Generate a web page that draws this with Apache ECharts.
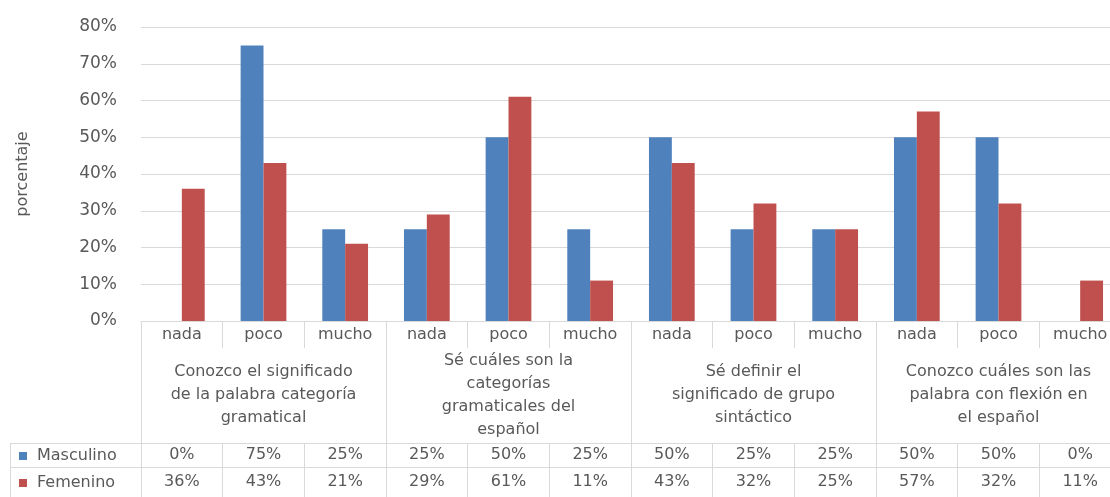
<!DOCTYPE html>
<html>
<head>
<meta charset="utf-8">
<script src="https://cdn.jsdelivr.net/npm/echarts@6/dist/echarts.min.js"></script>
<style>
  html, body { margin: 0; padding: 0; background: #ffffff; }
  #chart { width: 1110px; height: 497px; }
</style>
</head>
<body>
<div id="chart"></div>
<script>
// Answer levels for each statement
const levels = ['nada', 'poco', 'mucho', 'nada', 'poco', 'mucho', 'nada', 'poco', 'mucho', 'nada', 'poco', 'mucho'];
// Statements grouping the answer levels
const statements = [
  'Conozco el significado\nde la palabra categoría\ngramatical',
  'Sé cuáles son la\ncategorías\ngramaticales del\nespañol',
  'Sé definir el\nsignificado de grupo\nsintáctico',
  'Conozco cuáles son las\npalabra con flexión en\nel español'
];
// Percentages per gender
const masculino = [0, 75, 25, 25, 50, 25, 50, 25, 25, 50, 50, 0];
const femenino = [36, 43, 21, 29, 61, 11, 43, 32, 25, 57, 32, 11];
const yTicks = [0, 10, 20, 30, 40, 50, 60, 70, 80];

const FONT = 'DejaVu Sans';
const TEXT = '#595959';
const LINE = '#D9D9D9';
const BLUE = '#4F81BD';
const RED = '#C0504D';

const chart = echarts.init(document.getElementById('chart'), null, { renderer: 'canvas' });

const pct = v => v + '%';

const tableAxis = (data, offset, tickLen, margin, extra) => Object.assign({
  type: 'category',
  position: 'bottom',
  data: data,
  offset: offset,
  axisLine: { show: true, lineStyle: { color: LINE, width: 1 } },
  axisTick: { show: true, length: tickLen, interval: 0, lineStyle: { color: LINE, width: 1 } },
  axisLabel: {
    interval: 0, margin: margin, color: TEXT, fontFamily: FONT, fontSize: 16,
    verticalAlign: 'middle'
  },
  splitLine: { show: false }
}, extra || {});

chart.setOption({
  animation: false,
  backgroundColor: '#ffffff',
  textStyle: { fontFamily: FONT },
  // the plot runs a little past the right edge of the canvas
  grid: {
    left: 141, width: 980, top: 27, bottom: 176,
    containLabel: false, outerBoundsMode: 'none'
  },
  legend: [
    {
      data: ['Masculino'], left: 14, top: 443, icon: 'rect', itemWidth: 8, itemHeight: 8,
      textStyle: { color: TEXT, fontFamily: FONT, fontSize: 16, padding: [0, 0, 0, 5] }
    },
    {
      data: ['Femenino'], left: 14, top: 470, icon: 'rect', itemWidth: 8, itemHeight: 8,
      textStyle: { color: TEXT, fontFamily: FONT, fontSize: 16, padding: [0, 0, 0, 5] }
    }
  ],
  xAxis: [
    tableAxis(levels, 0, 27, 14),
    tableAxis(statements, 0, 122, 74, {
      axisLine: { show: false },
      axisLabel: {
        interval: 0, margin: 74, color: TEXT, fontFamily: FONT, fontSize: 16,
        verticalAlign: 'middle', lineHeight: 23
      }
    }),
    tableAxis(masculino.map(pct), 122, 24, 12),
    tableAxis(femenino.map(pct), 146, 32, 15)
  ],
  yAxis: {
    type: 'value',
    min: yTicks[0],
    max: yTicks[yTicks.length - 1],
    interval: 10,
    name: 'porcentaje',
    nameLocation: 'middle',
    nameGap: 110,
    nameTextStyle: { color: TEXT, fontFamily: FONT, fontSize: 16 },
    axisLine: { show: false },
    axisTick: { show: false },
    axisLabel: { formatter: '{value}%', color: TEXT, fontFamily: FONT, fontSize: 17, margin: 24 },
    splitLine: { show: true, lineStyle: { color: LINE, width: 1 } }
  },
  series: [
    {
      name: 'Masculino', type: 'bar', xAxisIndex: 0, data: masculino,
      barGap: '0%', barCategoryGap: '44%',
      itemStyle: { color: BLUE }
    },
    {
      name: 'Femenino', type: 'bar', xAxisIndex: 0, data: femenino,
      barGap: '0%', barCategoryGap: '44%',
      itemStyle: { color: RED }
    }
  ],
  graphic: [
    // left part of the data table frame
    { type: 'line', shape: { x1: 10, y1: 443.5, x2: 141, y2: 443.5 }, style: { stroke: LINE, lineWidth: 1 } },
    { type: 'line', shape: { x1: 10, y1: 467.5, x2: 141, y2: 467.5 }, style: { stroke: LINE, lineWidth: 1 } },
    { type: 'line', shape: { x1: 10.5, y1: 443, x2: 10.5, y2: 497 }, style: { stroke: LINE, lineWidth: 1 } }
  ]
});
</script>
</body>
</html>
